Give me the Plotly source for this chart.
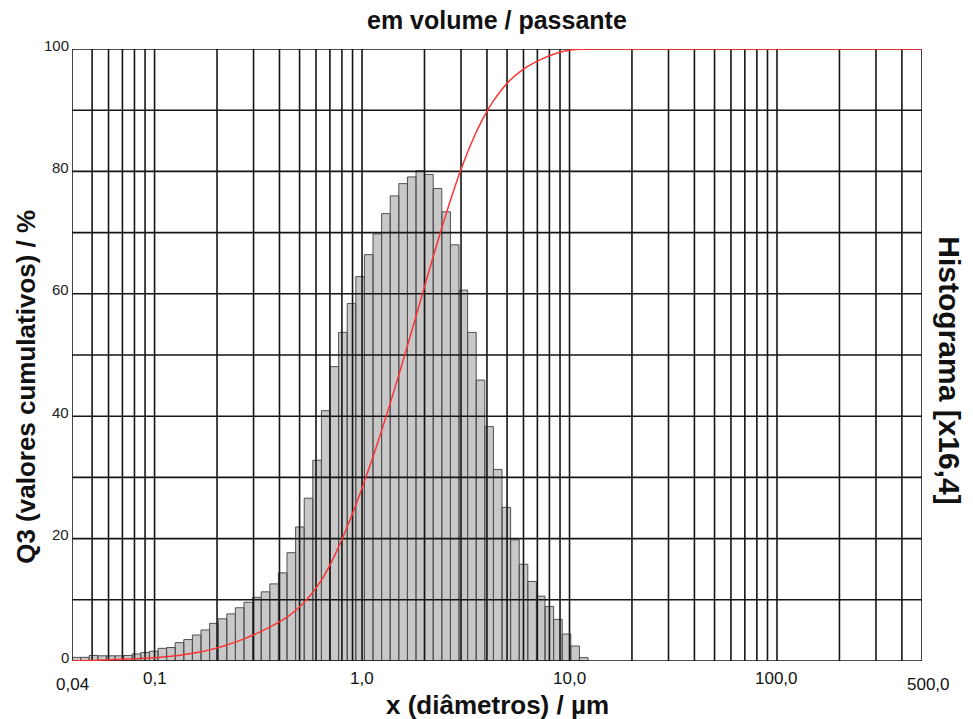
import numpy as np
import plotly.graph_objects as go

# Histogram class heights (q3 x 16.4), 60 logarithmic classes from 0.04 to ~12.3 µm
hist_values = [
    0.6, 0.6, 0.9, 0.85, 0.85, 0.85, 0.9, 1.15, 1.4, 1.6,
    2.07, 2.2, 3.0, 3.5, 4.25, 5.07, 6.15, 6.9, 7.7, 8.7,
    9.6, 10.4, 11.3, 12.6, 14.4, 17.7, 21.9, 26.6, 32.8, 40.9,
    48.1, 53.7, 58.4, 62.8, 66.4, 69.8, 73.1, 76.0, 78.0, 79.1,
    80.1, 79.5, 77.2, 73.4, 68.0, 60.6, 53.7, 45.9, 38.3, 31.3,
    25.1, 19.8, 15.8, 13.0, 10.6, 8.9, 6.8, 4.4, 2.45, 0.55,
]
class_min = 0.04
class_max = 12.28

# Cumulative passing Q3 (%) at the upper edge of each class
q3_values = [
    0.04, 0.07, 0.13, 0.18, 0.23, 0.28, 0.34, 0.41, 0.49, 0.59,
    0.72, 0.85, 1.04, 1.25, 1.51, 1.82, 2.19, 2.62, 3.09, 3.62,
    4.20, 4.84, 5.53, 6.30, 7.17, 8.26, 9.59, 11.22, 13.22, 15.71,
    18.65, 21.93, 25.49, 29.33, 33.38, 37.64, 42.10, 46.74, 51.50, 56.33,
    61.22, 66.07, 70.79, 75.27, 79.42, 83.12, 86.39, 89.20, 91.53, 93.44,
    94.98, 96.19, 97.15, 97.94, 98.59, 99.13, 99.55, 99.82, 99.97, 100.0,
]

x_min, x_max = 0.04, 500.0
y_grid = [0, 10, 20, 30, 40, 50, 60, 70, 80, 90, 100]
y_tick_labels = [0, 20, 40, 60, 80, 100]
x_grid = [0.04, 0.05, 0.06, 0.07, 0.08, 0.09,
          0.1, 0.2, 0.3, 0.4, 0.5, 0.6, 0.7, 0.8, 0.9,
          1, 2, 3, 4, 5, 6, 7, 8, 9,
          10, 20, 30, 40, 50, 60, 70, 80, 90,
          100, 200, 300, 400, 500]
x_tick_vals = [0.1, 1.0, 10.0, 100.0]
x_tick_text = ["0,1", "1,0", "10,0", "100,0"]
x_end_vals = [0.04, 500.0]
x_end_text = ["0,04", "500,0"]

edges = np.geomspace(class_min, class_max, len(hist_values) + 1)

# histogram columns as closed polygons
bx, by = [], []
for i, h in enumerate(hist_values):
    a, b = edges[i], edges[i + 1]
    bx += [a, a, b, b, a, None]
    by += [0, h, h, 0, 0, None]

# grid drawn over the columns
gx, gy = [], []
for v in x_grid:
    gx += [v, v, None]
    gy += [0, 100, None]
for v in y_grid:
    gx += [x_min, x_max, None]
    gy += [v, v, None]

cx = [class_min] + list(edges[1:]) + [x_max]
cy = [0.0] + q3_values + [100.0]

fig = go.Figure()
fig.add_trace(go.Scatter(x=bx, y=by, mode="lines", fill="toself",
                         fillcolor="#c8c8c8",
                         line=dict(color="#505050", width=1),
                         hoverinfo="skip", showlegend=False))
fig.add_trace(go.Scatter(x=gx, y=gy, mode="lines",
                         line=dict(color="#151515", width=1.6),
                         hoverinfo="skip", showlegend=False))
fig.add_trace(go.Scatter(x=cx, y=cy, mode="lines",
                         line=dict(color="#ff3333", width=1.5, shape="spline", smoothing=0.6),
                         showlegend=False))

font_family = "Liberation Sans, Arial, sans-serif"
ann = []
for v, t in zip(x_tick_vals, x_tick_text):
    ann.append(dict(x=np.log10(v), y=0, xref="x", yref="paper", text=t,
                    showarrow=False, xanchor="center", yanchor="middle", yshift=-17,
                    font=dict(size=17, color="#111111")))
for v, t, dx in zip(x_end_vals, x_end_text, [0, 6]):
    ann.append(dict(x=np.log10(v), y=0, xref="x", yref="paper", text=t,
                    showarrow=False, xanchor="center", yanchor="middle", yshift=-23,
                    xshift=dx, font=dict(size=17, color="#111111")))
for v in y_tick_labels:
    ann.append(dict(x=0, y=v, xref="paper", yref="y", text=str(v),
                    showarrow=False, xanchor="right", yanchor="middle",
                    xshift=-1, yshift=4,
                    font=dict(size=15, color="#222222")))

ann.append(dict(x=0.5, y=1, xref="paper", yref="paper", text="<b>em volume / passante</b>",
                showarrow=False, xanchor="center", yanchor="middle", yshift=29,
                font=dict(size=25, color="#111111")))
ann.append(dict(x=0.5, y=0, xref="paper", yref="paper", text="<b>x (diâmetros) / µm</b>",
                showarrow=False, xanchor="center", yanchor="middle", yshift=-44,
                font=dict(size=26, color="#111111")))
ann.append(dict(x=0, y=0.448, xref="paper", yref="paper",
                text="<b>Q3 (valores cumulativos) / %</b>", textangle=-90,
                showarrow=False, xanchor="center", yanchor="middle", xshift=-46,
                font=dict(size=26, color="#111111")))
ann.append(dict(x=1, y=0.475, xref="paper", yref="paper",
                text="<b>Histograma [x16,4]</b>", textangle=90,
                showarrow=False, xanchor="center", yanchor="middle", xshift=28,
                font=dict(size=30, color="#111111")))

fig.update_layout(
    width=973, height=719,
    margin=dict(l=72, r=51, t=49, b=58),
    paper_bgcolor="white", plot_bgcolor="white",
    font=dict(family=font_family),
    xaxis=dict(type="log", range=[np.log10(x_min), np.log10(x_max)],
               showgrid=False, zeroline=False, showticklabels=False, ticks=""),
    yaxis=dict(range=[0, 100], showgrid=False, zeroline=False,
               showticklabels=False, ticks=""),
    annotations=ann,
)

fig.write_html("out.html")
